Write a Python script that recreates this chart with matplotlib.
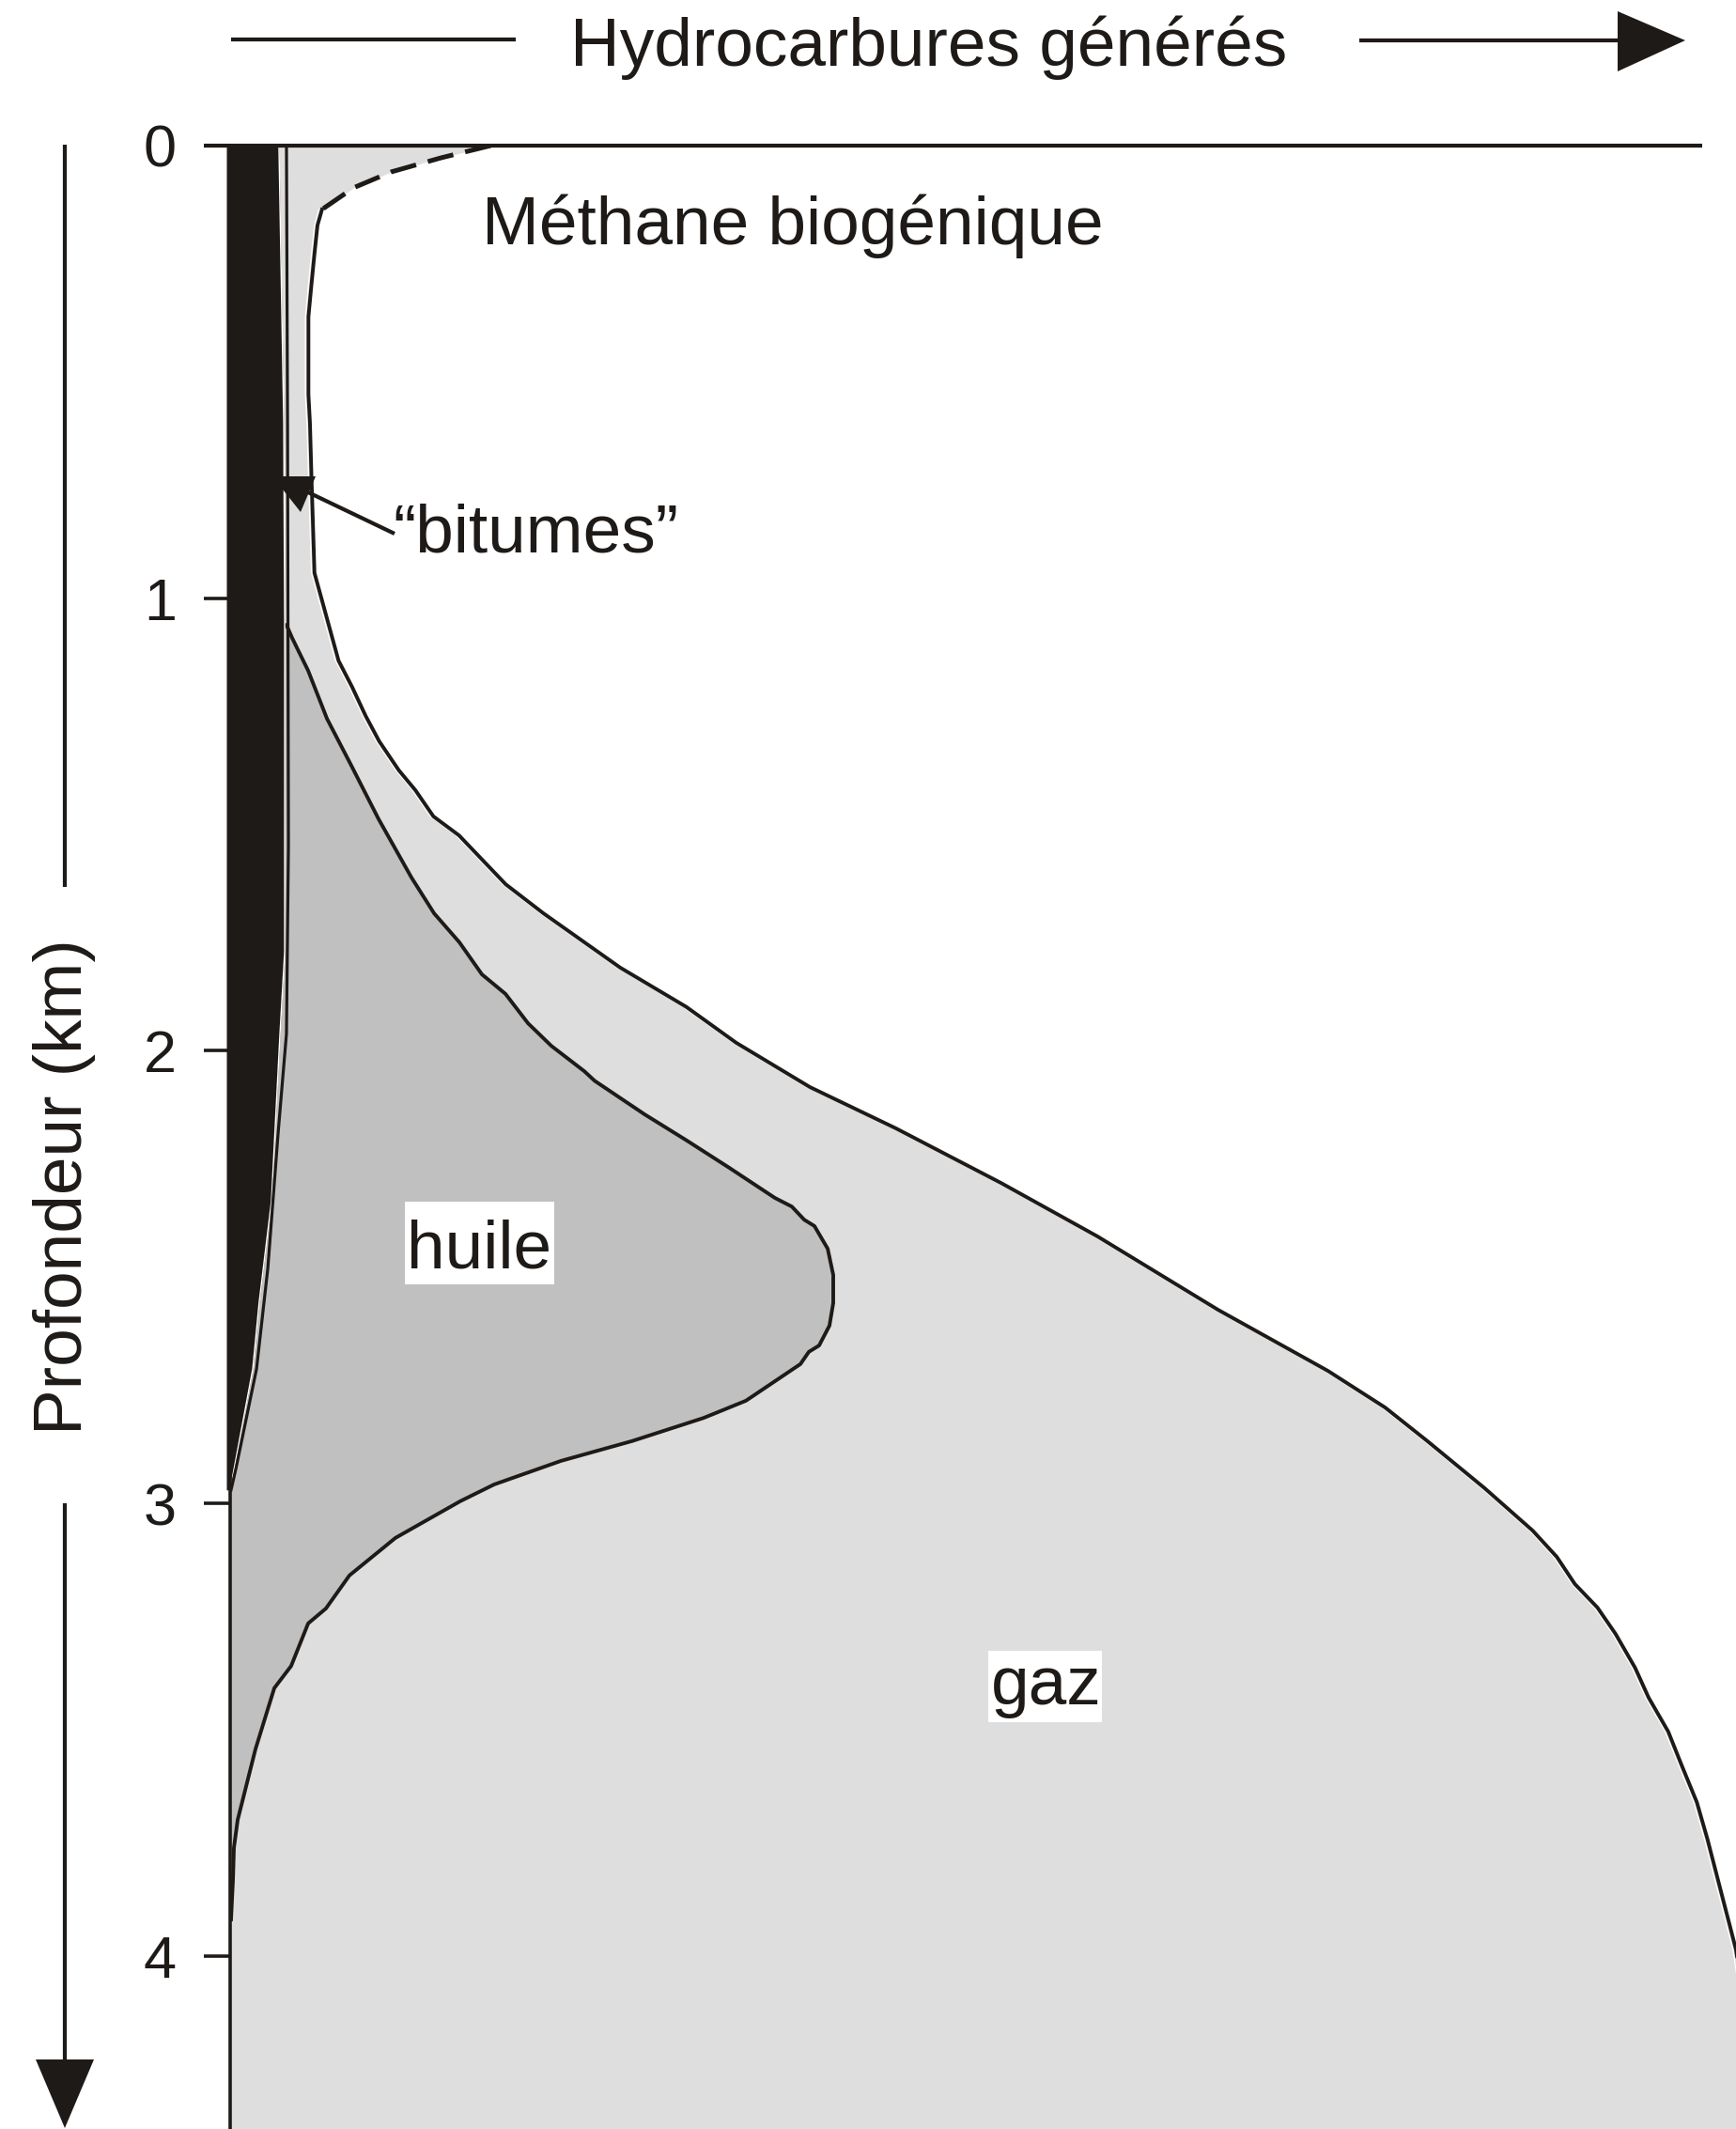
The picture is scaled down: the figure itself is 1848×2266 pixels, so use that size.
import matplotlib.pyplot as plt
from matplotlib.patches import Polygon, Rectangle

# Profiles of generated hydrocarbons vs burial depth.
# depth in km, amount on a relative 0-100 scale across the panel

# biogenic methane (dashed part of the total curve near the surface)
methane_depth = [0.0, 0.027, 0.058, 0.093, 0.141]
methane_x = [17.3, 14.0, 10.7, 8.2, 6.1]

# total generated (gas envelope)
gas_depth = [0.141, 0.176, 0.239, 0.307, 0.378, 0.446, 0.550, 0.612, 0.731,
             0.944, 1.138, 1.196, 1.260, 1.316, 1.380, 1.424, 1.482, 1.524,
             1.632, 1.696, 1.816, 1.903, 1.982, 2.080, 2.171, 2.292, 2.410,
             2.572, 2.707, 2.788, 2.862, 2.966, 3.060, 3.118, 3.178, 3.230,
             3.288, 3.363, 3.429, 3.504, 3.579, 3.660, 3.741, 3.844, 3.934,
             3.986, 4.100, 4.400]
gas_x = [6.1, 5.8, 5.6, 5.4, 5.2, 5.2, 5.2, 5.3, 5.4,
         5.6, 7.2, 8.1, 9.0, 9.9, 11.2, 12.3, 13.5, 15.2,
         18.3, 20.8, 25.9, 30.3, 33.6, 38.5, 44.2, 51.2, 57.6,
         65.6, 72.9, 76.7, 79.5, 83.3, 86.5, 88.1, 89.3, 90.8,
         92.0, 93.3, 94.2, 95.5, 96.4, 97.4, 98.1, 98.9, 99.6,
         100.0, 100.5, 101.5]

# oil window
oil_depth = [1.059, 1.088, 1.160, 1.266, 1.366, 1.488, 1.617, 1.696, 1.760,
             1.831, 1.874, 1.939, 1.989, 2.045, 2.066, 2.140, 2.198, 2.258,
             2.325, 2.344, 2.373, 2.387, 2.437, 2.495, 2.557, 2.607, 2.651,
             2.665, 2.692, 2.773, 2.811, 2.862, 2.906, 2.958, 2.995, 3.076,
             3.159, 3.232, 3.265, 3.359, 3.408, 3.543, 3.699, 3.761, 3.830,
             3.919]
oil_x = [3.74, 4.12, 5.18, 6.43, 7.99, 9.86, 12.04, 13.54, 15.22,
         16.72, 18.28, 19.78, 21.33, 23.52, 24.20, 27.51, 30.32, 33.13,
         36.18, 37.30, 38.12, 38.80, 39.68, 40.05, 40.05, 39.80, 39.11,
         38.43, 37.87, 34.25, 31.44, 26.70, 21.96, 17.53, 15.28, 10.98,
         7.92, 6.36, 5.18, 4.05, 2.93, 1.68, 0.50, 0.25, 0.19,
         0.06]

# bitumen band
bit_depth = [0.0, 0.612, 1.048, 1.781, 1.962, 2.333, 2.555, 2.703, 2.970]
bit_x = [3.24, 3.56, 3.62, 3.62, 3.31, 2.74, 1.93, 1.50, 0.0]

# outline just right of the bitumen band
edge_depth = [0.0, 0.612, 1.546, 1.962, 2.184, 2.481, 2.703, 2.925, 2.970]
edge_x = [3.74, 3.81, 3.87, 3.74, 3.18, 2.50, 1.75, 0.37, 0.06]

depth_ticks = [0, 1, 2, 3, 4]
depth_labels = ['0', '1', '2', '3', '4']

ink = '#1e1a17'
light = '#dedede'
mid = '#c0c0c0'

W, H = 1848, 2266
PX = 0.72  # points per pixel at dpi 100

plt.rcParams['font.family'] = ['Liberation Sans', 'DejaVu Sans']

fig = plt.figure(figsize=(W / 100, H / 100), dpi=100)
fig.patch.set_facecolor('white')

ax = fig.add_axes([245 / W, 0, 1 - 245 / W, (H - 155) / H])
ax.set_xlim(0, 100)
ax.set_ylim(4.382, 0)

ax.fill_betweenx(methane_depth + gas_depth[1:], 0, methane_x + gas_x[1:],
                 color=light, lw=0, zorder=1)
ax.fill_betweenx(oil_depth, 0, oil_x, color=mid, lw=0, zorder=1.2)
ax.fill_betweenx(bit_depth, -0.25, bit_x, color=ink, lw=0, zorder=1.4,
                 clip_on=False)

lw = 3.9 * PX
# thin white rim on the filled side of each outline
ax.plot([x - 0.2 for x in gas_x], gas_depth, color='white', lw=1.2 * PX,
        zorder=2.9)
ax.plot(gas_x, gas_depth, color=ink, lw=lw, zorder=3)
ax.plot(methane_x, methane_depth, color=ink, lw=5 * PX, zorder=3,
        linestyle=(0, (5.6, 2.6)), dash_capstyle='butt')
ax.plot(oil_x, oil_depth, color=ink, lw=lw, zorder=3)
ax.plot(bit_x, bit_depth, color='white', lw=1.4 * PX, zorder=3)
ax.plot(edge_x, edge_depth, color=ink, lw=3.2 * PX, zorder=3.2)

# surface line
ax.plot([-1.75, 97.75], [0, 0], color=ink, lw=4.2 * PX, clip_on=False,
        zorder=4, solid_capstyle='butt')

for s in ['top', 'right', 'bottom']:
    ax.spines[s].set_visible(False)
ax.spines['left'].set_color(ink)
ax.spines['left'].set_linewidth(3.6 * PX)
ax.spines['left'].set_zorder(3.5)
ax.set_xticks([])
ax.set_yticks(depth_ticks)
ax.set_yticklabels(depth_labels)
ax.tick_params(axis='y', direction='out', length=28 * PX, width=3.6 * PX,
               pad=29 * PX, labelsize=45.4, color=ink, labelcolor=ink)

# annotations in pixel space
ov = fig.add_axes([0, 0, 1, 1], zorder=5)
ov.set_xlim(0, W)
ov.set_ylim(H, 0)
ov.axis('off')

fs = 52.6
ov.text(607, 70, 'Hydrocarbures générés', fontsize=fs, color=ink,
        ha='left', va='baseline')
ov.plot([246, 549], [42, 42], color=ink, lw=4.2 * PX, solid_capstyle='butt')
ov.plot([1447, 1724], [43, 43], color=ink, lw=4.2 * PX, solid_capstyle='butt')
ov.add_patch(Polygon([(1722, 12), (1722, 76), (1794, 43)], closed=True,
                     color=ink, lw=0))

ov.text(513, 260, 'Méthane biogénique', fontsize=fs, color=ink,
        ha='left', va='baseline')

ov.text(418, 588, '\u201cbitumes\u201d', fontsize=fs, color=ink,
        ha='left', va='baseline')
ov.plot([420, 328], [568, 524], color=ink, lw=4.2 * PX, solid_capstyle='butt')
ov.add_patch(Polygon([(290, 507), (336, 507), (320, 545)], closed=True,
                     color=ink, lw=0))

ov.add_patch(Rectangle((431, 1279), 159, 88, color='white', lw=0))
ov.text(433, 1350, 'huile', fontsize=fs, color=ink, ha='left', va='baseline')
ov.add_patch(Rectangle((1052, 1757), 121, 76, color='white', lw=0))
ov.text(1055, 1814, 'gaz', fontsize=fs, color=ink, ha='left', va='baseline')

# depth axis arrow and label
ov.plot([69, 69], [154, 944], color=ink, lw=4.2 * PX, solid_capstyle='butt')
ov.plot([69, 69], [1600, 2194], color=ink, lw=4.2 * PX, solid_capstyle='butt')
ov.add_patch(Polygon([(38, 2192), (100, 2192), (69, 2265)], closed=True,
                     color=ink, lw=0))
ov.text(69, 1263, 'Profondeur (km)', fontsize=fs, color=ink, rotation=90,
        ha='center', va='center')

fig.savefig('out.png', dpi=100, facecolor='white')
